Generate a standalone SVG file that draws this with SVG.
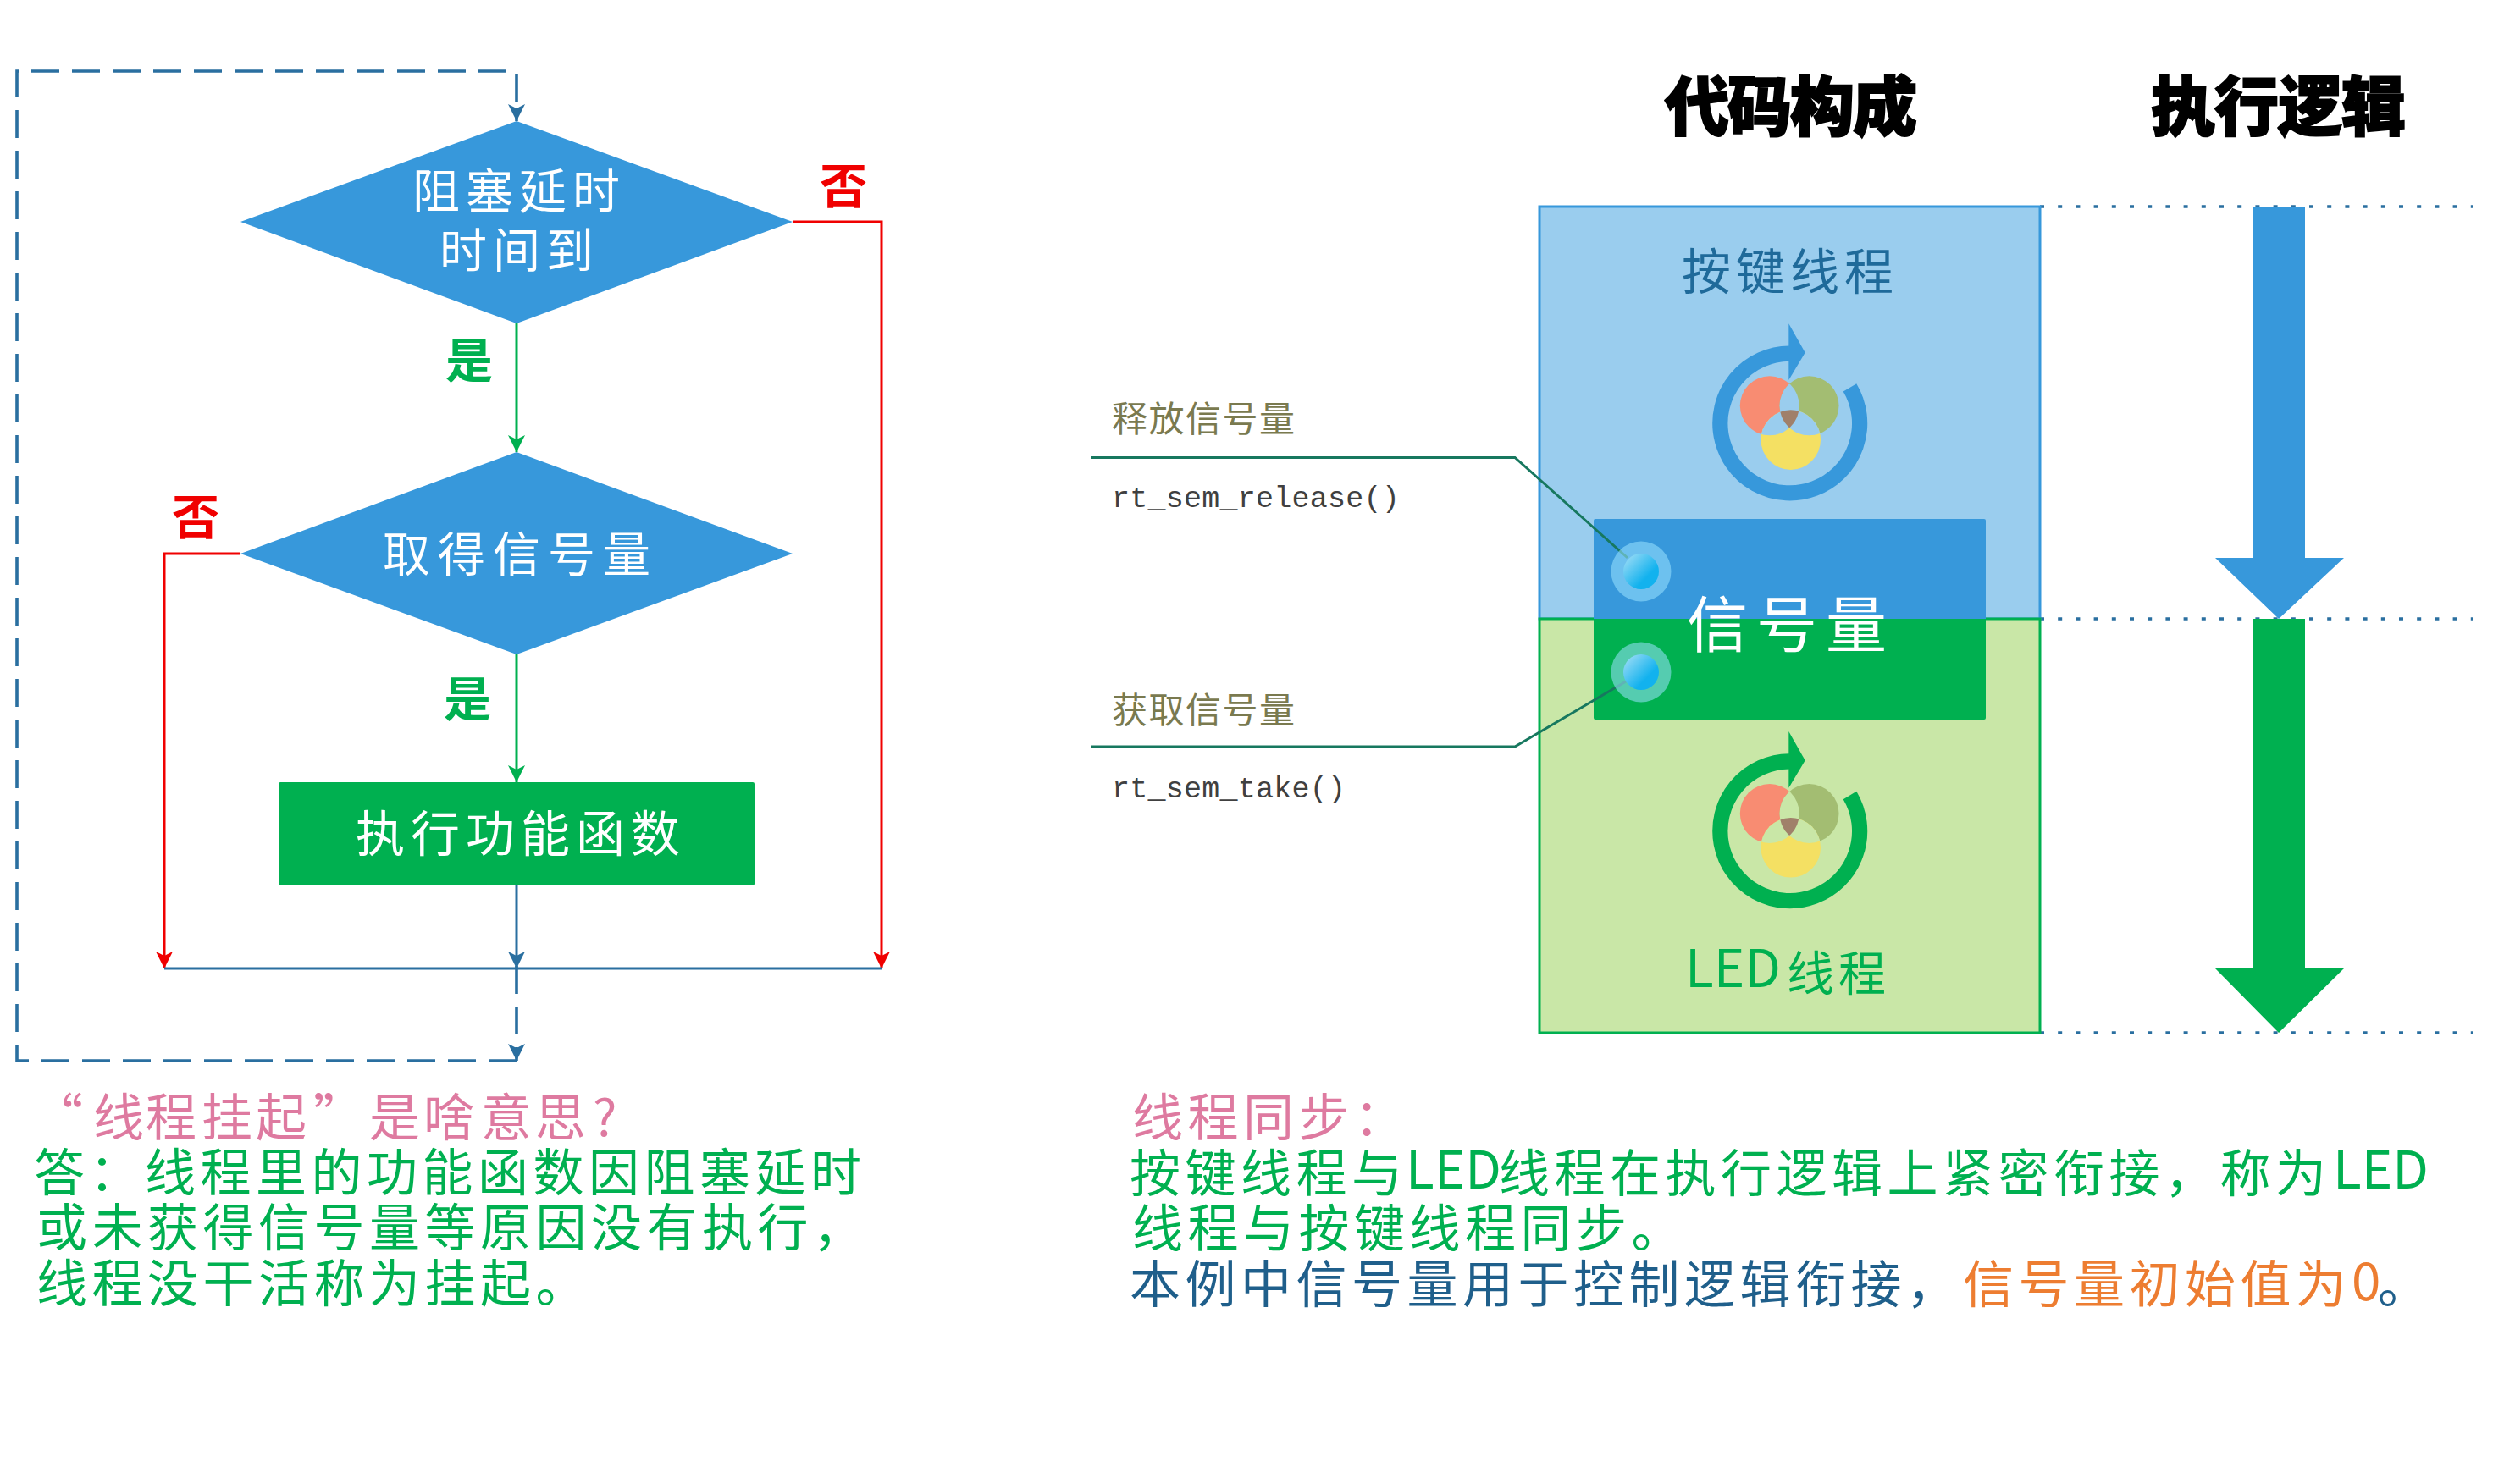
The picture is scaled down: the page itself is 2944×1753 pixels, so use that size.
<svg xmlns="http://www.w3.org/2000/svg" width="2944" height="1753" viewBox="0 0 2944 1753">
<style>
text{font-family:"Noto Sans CJK SC","Noto Sans",sans-serif;white-space:pre}
.w{fill:#fff}
.body{font-size:60px;letter-spacing:5.5px}
.pink{fill:#de7aa0}.grn{fill:#00b050}.navy{fill:#1f5f8b}.org{fill:#ed7d31}
.lat{font-size:62px;letter-spacing:0}
.ttl{font-size:76px;font-weight:900;fill:#000;stroke:#000;stroke-width:2px}
.yn{font-size:56px;font-weight:700}
.api{font-size:42px;letter-spacing:1.5px;fill:#7a7a4f}
.code{font-family:"Liberation Mono",monospace;font-size:35px;letter-spacing:.25px;fill:#404040}
.ln{fill:none;stroke-width:3}
.dash{stroke-width:3.6}
.dot{fill:none;stroke:#2a6fa0;stroke-width:3.5;stroke-dasharray:5 16.2}
.c-r{fill:#f88c72}.c-g{fill:#a3bd72}.c-y{fill:#f4e063}.c-b{fill:#a0806a}
.halo{fill:#9be3ff;fill-opacity:.55}
</style>
<defs>
<marker id="aB" markerUnits="userSpaceOnUse" markerWidth="20" markerHeight="22" refX="20" refY="11" orient="auto"><path d="M0,1L20,11L0,21L5,11Z" fill="#2a6fa0"/></marker>
<marker id="aG" markerUnits="userSpaceOnUse" markerWidth="20" markerHeight="22" refX="20" refY="11" orient="auto"><path d="M0,1L20,11L0,21L5,11Z" fill="#00b050"/></marker>
<marker id="aR" markerUnits="userSpaceOnUse" markerWidth="20" markerHeight="22" refX="20" refY="11" orient="auto"><path d="M0,1L20,11L0,21L5,11Z" fill="#f00000"/></marker>
<linearGradient id="ball" x1="0.1" y1="0.1" x2="0.85" y2="0.85"><stop offset="0" stop-color="#93d9f5"/><stop offset=".75" stop-color="#12b2ee"/></linearGradient>
<clipPath id="cr"><circle cx="2089.8" cy="479.3" r="35"/></clipPath>
<clipPath id="cg"><circle cx="2136.5" cy="479.3" r="35"/></clipPath>
<clipPath id="cy"><circle cx="2114.7" cy="519.6" r="35.3"/></clipPath>
<g id="venn">
<circle class="c-r" cx="2089.8" cy="479.3" r="35"/>
<circle class="c-g" cx="2136.5" cy="479.3" r="35"/>
<circle class="c-y" cx="2114.7" cy="519.6" r="35.3"/>
</g>
<g id="lens1"><g clip-path="url(#cr)"><circle cx="2136.5" cy="479.3" r="35"/></g><g clip-path="url(#cr)"><circle cx="2114.7" cy="519.6" r="35.3"/></g><g clip-path="url(#cg)"><circle cx="2114.7" cy="519.6" r="35.3"/></g></g>
<g id="core"><g clip-path="url(#cr)"><g clip-path="url(#cg)"><circle class="c-b" cx="2114.7" cy="519.6" r="35.3"/></g></g></g>
<path id="ringArc" d="M2113,417.6A82.4,82.4 0 1 0 2184.5,457.8" fill="none" stroke-width="18.2"/>
<path id="ringHead" d="M2112.3,382.3L2131.7,416.6L2112.3,449Z"/>
</defs>

<g id="connectors">
<path class="ln" stroke="#00b050" d="M610,382V534" marker-end="url(#aG)"/>
<path class="ln" stroke="#00b050" d="M610,773V924" marker-end="url(#aG)"/>
<path class="ln" stroke="#f00000" d="M936,262H1041V1144" marker-end="url(#aR)"/>
<path class="ln" stroke="#f00000" d="M284,654H194V1144" marker-end="url(#aR)"/>
<path class="ln" stroke="#2a6fa0" d="M610,1046V1144" marker-end="url(#aB)"/>
<path class="ln" stroke="#2a6fa0" d="M194,1144H1041"/>
<path class="ln dash" stroke="#2a6fa0" stroke-dasharray="33 15" d="M610,1141V1253" marker-end="url(#aB)"/>
<path class="ln dash" stroke="#2a6fa0" stroke-dasharray="33 15" d="M610,1253H20V84H610V143" marker-end="url(#aB)"/>
<path class="dot" d="M2409,244H2920"/>
<path class="dot" d="M2409,731H2920"/>
<path class="dot" d="M2409,1220H2920"/>
</g>

<g id="d1"><path d="M610,143L936,262L610,382L284,262Z" fill="#3798db"/>
<text class="w" x="487" y="246" font-size="56" letter-spacing="7">阻塞延时</text>
<text class="w" x="519" y="316" font-size="56" letter-spacing="7">时间到</text></g>
<g id="d2"><path d="M610,534L936,654L610,773L284,654Z" fill="#3798db"/>
<text class="w" x="452" y="675" font-size="56" letter-spacing="9">取得信号量</text></g>
<g id="exec"><rect x="329" y="924" width="562" height="122" rx="2" fill="#00b050"/>
<text class="w" x="420" y="1006" font-size="58" letter-spacing="7">执行功能函数</text></g>
<text class="yn" x="968" y="240" fill="#f00000">否</text>
<text class="yn" x="203" y="631" fill="#f00000">否</text>
<text class="yn grn" x="526" y="446">是</text>
<text class="yn grn" x="524" y="846">是</text>

<g id="panelKey"><rect x="1818" y="244" width="591" height="487" fill="#9acdee" stroke="#3798db" stroke-width="3"/>
<text x="1986" y="342" font-size="58" letter-spacing="6" fill="#1f6a9a">按键线程</text>
<use href="#venn"/><use href="#lens1" fill="#9acdee"/><use href="#core"/>
<use href="#ringArc" stroke="#3798db"/><use href="#ringHead" fill="#3798db"/></g>

<g id="panelLed"><rect x="1818" y="731" width="591" height="489" fill="#c9e7a7" stroke="#00b050" stroke-width="3"/>
<g transform="translate(0,481.7)"><use href="#venn"/><use href="#lens1" fill="#c9e7a7"/><use href="#core"/>
<use href="#ringArc" stroke="#00b050"/><use href="#ringHead" fill="#00b050"/></g>
<text class="grn" x="1990" y="1166" font-size="62">LED</text>
<text class="grn" x="2110" y="1170" font-size="56" letter-spacing="5">线程</text></g>

<g id="sem"><path d="M1884,613H2343a2,2 0 0 1 2,2V731H1882V615a2,2 0 0 1 2,-2Z" fill="#3798db"/>
<path d="M1882,731H2345V848a2,2 0 0 1 -2,2H1884a2,2 0 0 1 -2,-2Z" fill="#00b050"/>
<text class="w" x="1992" y="764" font-size="72" letter-spacing="10">信号量</text></g>

<g id="callouts">
<path class="ln" stroke="#17785f" stroke-width="3.5" d="M1288,540.5H1789L1922,659"/>
<path class="ln" stroke="#17785f" stroke-width="3.5" d="M1288,882H1789L1920,805"/>
<text class="api" x="1313" y="510">释放信号量</text>
<text class="code" x="1313" y="599">rt_sem_release()</text>
<text class="api" x="1313" y="854">获取信号量</text>
<text class="code" x="1313" y="942">rt_sem_take()</text>
<circle class="halo" cx="1938" cy="675" r="35.5"/><circle cx="1938" cy="675" r="21" fill="url(#ball)"/>
<circle class="halo" cx="1938" cy="794" r="35.5"/><circle cx="1938" cy="794" r="21" fill="url(#ball)"/>
</g>

<g id="arrows">
<path d="M2660,244H2722V659H2768L2691,731L2616,659H2660Z" fill="#3798db"/>
<path d="M2660,731H2722V1144H2768L2691,1220L2616,1144H2660Z" fill="#00b050"/>
</g>

<text class="ttl" x="1966" y="154" letter-spacing="-2">代码构成</text>
<text class="ttl" x="2540" y="154" letter-spacing="-1">执行逻辑</text>

<g id="noteLeft">
<text class="body pink" style="letter-spacing:0" x="38 110 172 238 302 370 436 500 568 632 700" y="1342">“线程挂起”是啥意思?</text>
<text class="body grn" x="40" y="1407">答&#xFF1A;线程里的功能函数因阻塞延时</text>
<text class="body grn" x="43" y="1472">或未获得信号量等原因没有执行&#xFF0C;</text>
<text class="body grn" x="43" y="1538">线程没干活称为挂起。</text>
</g>
<g id="noteRight">
<text class="body pink" x="1337" y="1342">线程同步&#xFF1A;</text>
<text class="body grn" x="1334" y="1408">按键线程与</text>
<text class="grn lat" x="1660" y="1404">LED</text>
<text class="body grn" x="1770" y="1408">线程在执行逻辑上紧密衔接&#xFF0C;称为</text>
<text class="grn lat" x="2755" y="1404">LED</text>
<text class="body grn" x="1337" y="1473">线程与按键线程同步。</text>
<text class="body navy" x="1334" y="1539">本例中信号量用于控制逻辑衔接&#xFF0C;</text>
<text class="body org" x="2318" y="1539">信号量初始值为</text>
<text class="org lat" x="2777" y="1536">0</text>
<text class="body navy" x="2808" y="1539">。</text>
</g>
</svg>
